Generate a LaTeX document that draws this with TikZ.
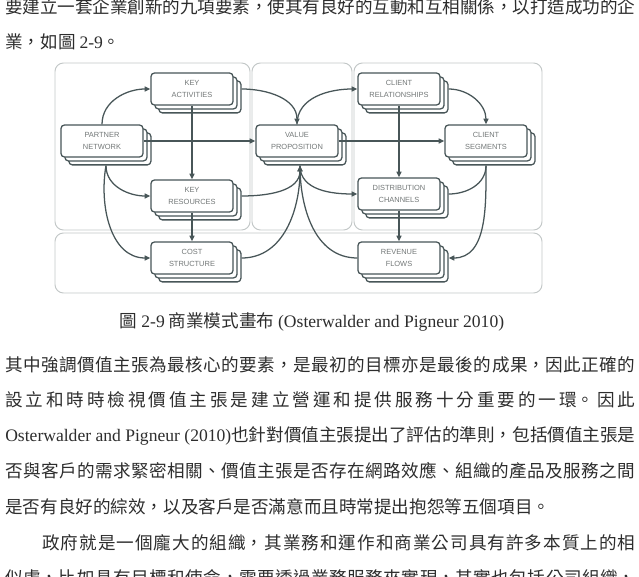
\documentclass[tikz,border=0pt]{standalone}
\usepackage{fontspec}
\setmainfont{Liberation Serif}
\setsansfont{Liberation Sans}
\newfontfamily\cjk{Noto Sans CJK TC}
\usetikzlibrary{arrows.meta,positioning,calc,shadows}
\definecolor{cardline}{RGB}{72,86,88}
\definecolor{cardtext}{RGB}{115,120,120}
\definecolor{panelline}{RGB}{195,200,200}
\definecolor{inktext}{RGB}{45,45,45}
\XeTeXlinebreaklocale "zh"
\XeTeXlinebreakskip=0pt plus 4pt minus 1.5pt
\newcommand{\eng}[1]{{\rmfamily #1}}
\tikzset{
  canvasbox/.style={draw=panelline,line width=0.7pt,rounded corners=6pt,fill=white},
  blocknode/.style={rectangle,rounded corners=2.5pt,draw=cardline,line width=0.9pt,fill=white,
    minimum width=2.05cm,minimum height=0.8cm,align=center,text=cardtext,
    font=\sffamily\fontsize{5.3}{8.5}\selectfont,
    double copy shadow={shadow xshift=2.8pt,shadow yshift=-2.8pt}},
  bodytext/.style={anchor=west,inner sep=0pt,text=inktext,font=\cjk\fontsize{12.5}{15}\selectfont},
  fullline/.style={bodytext,text width=15.75cm,align=justify,
    execute at begin node={\parfillskip=0pt\relax}},
  arr/.style={-{Triangle[length=4pt,width=3.6pt]},draw=cardline,line width=0.9pt},
  plainarr/.style={draw=cardline,line width=0.9pt}
}

\begin{document}
\begin{tikzpicture}[x=0.025cm,y=-0.025cm]
  \useasboundingbox (0,0) rectangle (639,577);
  % text above the figure
  \node[fullline] (l1) at (5,7) {要建立一套企業創新的九項要素，使其有良好的互動和互相關係，以打造成功的企};
  \node[bodytext] (l2) at (5,42) {業，如圖 \eng{2-9}。};

  % canvas panels
  \draw[canvasbox] (55,63) rectangle (250,230);
  \draw[canvasbox] (252,63) rectangle (352,230);
  \draw[canvasbox] (354,63) rectangle (542,230);
  \draw[canvasbox] (55,233) rectangle (542,293);

  % building blocks
  \node[blocknode] (pn) at (102,141) {PARTNER\\NETWORK};
  \node[blocknode] (ka) at (192,89) {KEY\\ACTIVITIES};
  \node[blocknode] (kr) at (192,196) {KEY\\RESOURCES};
  \node[blocknode] (cs) at (192,258) {COST\\STRUCTURE};
  \node[blocknode] (vp) at (297,141) {VALUE\\PROPOSITION};
  \node[blocknode] (cr) at (399,89) {CLIENT\\RELATIONSHIPS};
  \node[blocknode] (seg) at (486,141) {CLIENT\\SEGMENTS};
  \node[blocknode] (dc) at (399,194) {DISTRIBUTION\\CHANNELS};
  \node[blocknode] (rf) at (399,258) {REVENUE\\FLOWS};

  \coordinate (pnb) at ($(pn.south)+(4,8)$);
  \coordinate (vpb) at ($(vp.south)+(3,8)$);
  \coordinate (segb) at ($(seg.south)+(0,8)$);

  % left side into the value proposition
  \draw[arr] (pn.north) to[out=90,in=180] (ka.west);
  \draw[arr] (pn) -- (vp);
  \draw[arr] (pnb) to[out=-90,in=180] (kr.west);
  \draw[arr] (pnb) to[out=-100,in=180] (cs.west);
  \draw[arr] (ka) -- (kr);
  \draw[arr] (kr) -- (cs);
  \draw[arr] ($(ka.east)+(8,0)$) to[out=0,in=90] (vp.north);
  \draw[arr] ($(kr.east)+(8,0)$) to[out=0,in=-90] (vpb);
  \draw[arr] ($(cs.east)+(8,0)$) to[out=0,in=-90] (vpb);

  % right side out of the value proposition
  \draw[arr] (vp.north) to[out=90,in=180] (cr.west);
  \draw[arr] (vp) -- (seg);
  \draw[arr] (vpb) to[out=-90,in=180] (dc.west);
  \draw[plainarr] (vpb) to[out=-90,in=180] (rf.west);
  \draw[arr] (cr) -- (dc);
  \draw[arr] (dc) -- (rf);
  \draw[arr] ($(cr.east)+(8,0)$) to[out=0,in=90] (seg.north);
  \draw[plainarr] ($(dc.east)+(8,0)$) to[out=0,in=-90] (segb);
  \draw[arr] (segb) to[out=-90,in=0] ($(rf.east)+(8,0)$);

  % caption and text below
  \node[bodytext,anchor=center] (cap) at (312,322) {圖 \eng{2-9} 商業模式畫布 \eng{(Osterwalder and Pigneur 2010)}};
  \node[fullline] (b1) at (5,365) {其中強調價值主張為最核心的要素，是最初的目標亦是最後的成果，因此正確的};
  \node[fullline] (b2) at (5,400) {設立和時時檢視價值主張是建立營運和提供服務十分重要的一環。因此};
  \node[fullline] (b3) at (5,436) {\eng{Osterwalder and Pigneur (2010)}也針對價值主張提出了評估的準則，包括價值主張是};
  \node[fullline] (b4) at (5,471) {否與客戶的需求緊密相關、價值主張是否存在網路效應、組織的產品及服務之間};
  \node[bodytext] (b5) at (5,507) {是否有良好的綜效，以及客戶是否滿意而且時常提出抱怨等五個項目。};
  \node[fullline,text width=14.825cm] (b6) at (42,543) {政府就是一個龐大的組織，其業務和運作和商業公司具有許多本質上的相};
  \node[fullline] (b7) at (5,578) {似處，比如具有目標和使命，需要透過業務服務來實現，其實也包括公司組織，};
\end{tikzpicture}
\end{document}
